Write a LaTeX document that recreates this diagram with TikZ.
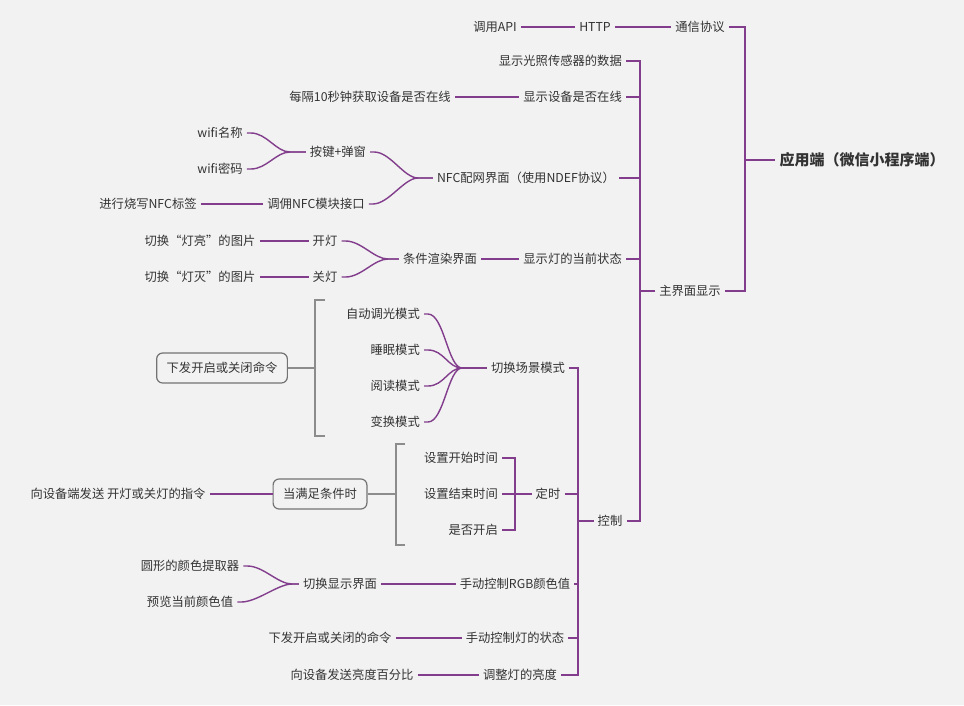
\documentclass[tikz,border=0pt]{standalone}
\usepackage{fontspec}
\setmainfont{Noto Sans CJK SC}
\definecolor{pl}{RGB}{130,62,140}
\begin{document}
\begin{tikzpicture}[x=1pt,y=-1pt,
  t/.style={inner sep=4pt,font=\fontsize{12.3}{14}\selectfont,text=black!80},
  bx/.style={t,draw=black!55,rounded corners=6pt,line width=1.2pt,minimum height=30pt,inner xsep=10pt},
  br/.style={draw=pl,line width=1.4pt},
  gb/.style={draw=black!45,line width=1.3pt}]
\fill[black!5] (0,0) rectangle (964,705);
\useasboundingbox (0,0) rectangle (964,705);
\newcommand\fan[3]{\draw[br] (#1.east) -- ++(4,0) .. controls +(16,0) and +(-14,0) .. (#3) -- (#2.west);}
% root
\node[t,font=\fontsize{15}{17}\selectfont\bfseries] (root) at (862,160) {应用端（微信小程序端）};
\node[t] (tx) at (700,27) {通信协议};
\node[t] (http) at (595,27) {HTTP};
\node[t] (api) at (495,27) {调用API};
\node[t] (main) at (690,291) {主界面显示};
\draw[br] (tx.east) -- (745,27) -- (745,291) -- (main.east);
\draw[br] (745,160) -- (root.west);
\draw[br] (api.east) -- (http.west); \draw[br] (http.east) -- (tx.west);
% main children
\node[t,anchor=east] (light) at (626,61) {显示光照传感器的数据};
\node[t,anchor=east] (online) at (626,97) {显示设备是否在线};
\node[t,anchor=east] (nfc) at (619,178) {NFC配网界面（使用NDEF协议）};
\node[t,anchor=east] (state) at (626,259) {显示灯的当前状态};
\node[t] (ctrl) at (610,521) {控制};
\draw[br] (light.east) -- (640,61) -- (640,521) -- (ctrl.east);
\draw[br] (online.east) -- (640,97);
\draw[br] (nfc.east) -- (640,178);
\draw[br] (state.east) -- (640,259);
\draw[br] (main.west) -- (640,291);
\node[t] (every) at (370,97) {每隔10秒钟获取设备是否在线};
\draw[br] (every.east) -- (online.west);
% NFC
\node[t] (w1) at (220,133) {wifi名称};
\node[t] (w2) at (220,169) {wifi密码};
\node[t] (key) at (338,152) {按键+弹窗};
\node[t] (call) at (316,204) {调佣NFC模块接口};
\node[t] (burn) at (148,204) {进行烧写NFC标签};
\coordinate (m1) at (290,152);
\fan{w1}{key}{m1} \fan{w2}{key}{m1}
\coordinate (m2) at (418,178);
\fan{key}{nfc}{m2} \fan{call}{nfc}{m2}
\draw[br] (burn.east) -- (call.west);
% lamp state
\node[t] (on) at (325,241) {开灯};
\node[t] (off) at (325,277) {关灯};
\node[t] (pon) at (200,241) {切换“灯亮”的图片};
\node[t] (poff) at (200,277) {切换“灯灭”的图片};
\node[t] (cond) at (440,259) {条件渲染界面};
\coordinate (m3) at (388,259);
\fan{on}{cond}{m3} \fan{off}{cond}{m3}
\draw[br] (pon.east) -- (on.west); \draw[br] (poff.east) -- (off.west);
\draw[br] (cond.east) -- (state.west);
% control children
\node[t] (scene) at (528,368) {切换场景模式};
\node[t] (timer) at (548,494) {定时};
\node[t] (rgb) at (515,584) {手动控制RGB颜色值};
\node[t] (man) at (515,638) {手动控制灯的状态};
\node[t] (bri) at (520,675) {调整灯的亮度};
\draw[br] (scene.east) -- (578,368) -- (578,675) -- (bri.east);
\foreach \n in {timer,rgb,man} \draw[br] (\n.east) -- (\n.east -| 578,0);
\draw[br] (ctrl.west) -- (578,521);
% scene
\node[t,anchor=east] (s1) at (424,314) {自动调光模式};
\node[t,anchor=east] (s2) at (424,350) {睡眠模式};
\node[t,anchor=east] (s3) at (424,386) {阅读模式};
\node[t,anchor=east] (s4) at (424,422) {变换模式};
\coordinate (m4) at (462,368);
\foreach \n in {s1,s2,s3,s4} {\fan{\n}{scene}{m4}}
\node[bx] (cmd) at (222,368) {下发开启或关闭命令};
\draw[gb] (325,300) -- (315,300) -- (315,436) -- (325,436);
\draw[gb] (315,368) -- (cmd.east);
% timer
\node[t,anchor=east] (t1) at (502,458) {设置开始时间};
\node[t,anchor=east] (t2) at (502,494) {设置结束时间};
\node[t,anchor=east] (t3) at (502,530) {是否开启};
\draw[br] (t1.east) -- (515,458) -- (515,530) -- (t3.east);
\draw[br] (t2.east) -- (timer.west);
\node[bx] (when) at (320,494) {当满足条件时};
\draw[gb] (405,444) -- (396,444) -- (396,545) -- (405,545);
\draw[gb] (396,494) -- (when.east);
\node[t] (send) at (118,494) {向设备端发送 开灯或关灯的指令};
\draw[br] (send.east) -- (when.west);
% rgb
\node[t] (sw) at (340,584) {切换显示界面};
\node[t] (c1) at (190,566) {圆形的颜色提取器};
\node[t] (c2) at (190,602) {预览当前颜色值};
\coordinate (m5) at (292,584);
\fan{c1}{sw}{m5} \fan{c2}{sw}{m5}
\draw[br] (sw.east) -- (rgb.west);
\node[t] (oc) at (330,638) {下发开启或关闭的命令};
\draw[br] (oc.east) -- (man.west);
\node[t] (pct) at (352,675) {向设备发送亮度百分比};
\draw[br] (pct.east) -- (bri.west);
\end{tikzpicture}
\end{document}
